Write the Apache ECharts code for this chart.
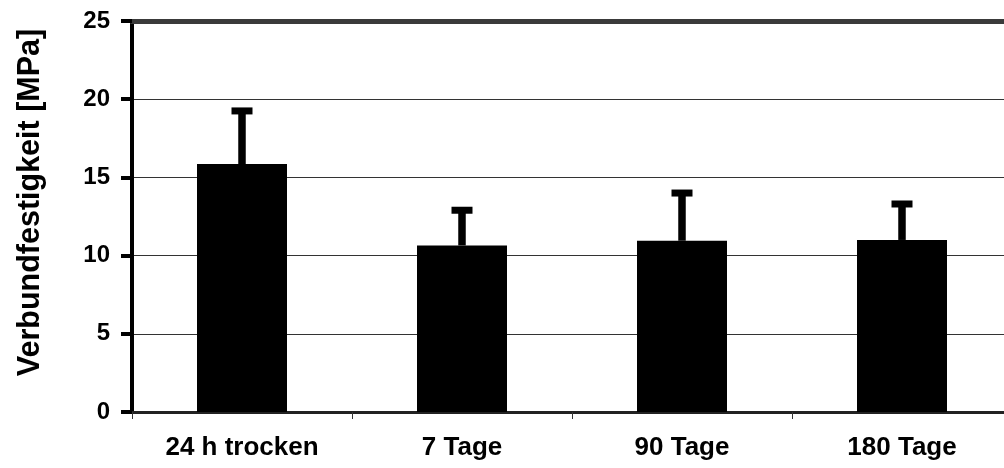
<!DOCTYPE html>
<html>
<head>
<meta charset="utf-8">
<script src="https://cdn.jsdelivr.net/npm/echarts@6/dist/echarts.min.js"></script>
<style>
  html, body { margin: 0; padding: 0; background: #fff; overflow: hidden; }
  /* the plot area runs past the right edge of the page */
  #chart { width: 1012px; height: 468px; }
</style>
</head>
<body>
<div id="chart"></div>
<script>
// Bond strength after storage, mean with upper standard deviation
const categories = ['24 h trocken', '7 Tage', '90 Tage', '180 Tage'];
const meanValues = [15.85, 10.65, 10.95, 11.0];
const upperValues = [19.25, 12.9, 14.0, 13.3];
const yTicks = [0, 5, 10, 15, 20, 25];

const FONT = '"Liberation Sans", Arial, sans-serif';

const chart = echarts.init(document.getElementById('chart'), null, { renderer: 'canvas' });

const errorData = categories.map((c, i) => [i, meanValues[i], upperValues[i]]);

chart.setOption({
  animation: false,
  backgroundColor: '#fff',
  grid: { left: 132, right: 0, top: 21, bottom: 56, containLabel: false },
  xAxis: [
    {
      type: 'category',
      data: categories,
      position: 'bottom',
      axisLine: { show: true, lineStyle: { color: '#222', width: 3 } },
      axisTick: { show: true, length: 7, lineStyle: { color: '#333', width: 1 } },
      axisLabel: {
        color: '#000', fontFamily: FONT, fontWeight: 'bold', fontSize: 26, margin: 23
      },
      splitLine: { show: false }
    },
    {
      // top border of the plot frame
      type: 'category',
      data: categories,
      position: 'top',
      axisLine: { show: true, lineStyle: { color: '#3a3a3a', width: 5 } },
      axisTick: { show: false },
      axisLabel: { show: false }
    }
  ],
  yAxis: {
    type: 'value',
    min: yTicks[0],
    max: yTicks[yTicks.length - 1],
    interval: 5,
    name: 'Verbundfestigkeit [MPa]',
    nameLocation: 'middle',
    nameRotate: 90,
    nameGap: 86,
    nameTextStyle: {
      color: '#000', fontFamily: FONT, fontWeight: 'bold', fontSize: 30.5,
      padding: [0, 0, 0, 28]
    },
    axisLine: { show: true, lineStyle: { color: '#000', width: 4 } },
    axisTick: { show: true, length: 11, lineStyle: { color: '#000', width: 4 } },
    axisLabel: {
      color: '#000', fontFamily: FONT, fontWeight: 'bold', fontSize: 24, margin: 22
    },
    splitLine: { show: true, lineStyle: { color: '#333', width: 1 } }
  },
  series: [
    {
      type: 'bar',
      data: meanValues,
      barWidth: 90,
      itemStyle: { color: '#000' },
      z: 2
    },
    {
      type: 'custom',
      data: errorData,
      z: 3,
      renderItem: function (params, api) {
        const x = api.value(0);
        const base = api.coord([x, api.value(1)]);
        const top = api.coord([x, api.value(2)]);
        const stemW = 7.5, capW = 21, capH = 7;
        return {
          type: 'group',
          children: [
            {
              type: 'rect',
              shape: { x: base[0] - stemW / 2, y: top[1], width: stemW, height: base[1] - top[1] },
              style: { fill: '#000' }
            },
            {
              type: 'rect',
              shape: { x: top[0] - capW / 2, y: top[1] - capH / 2, width: capW, height: capH },
              style: { fill: '#000' }
            }
          ]
        };
      }
    }
  ]
});
</script>
</body>
</html>
